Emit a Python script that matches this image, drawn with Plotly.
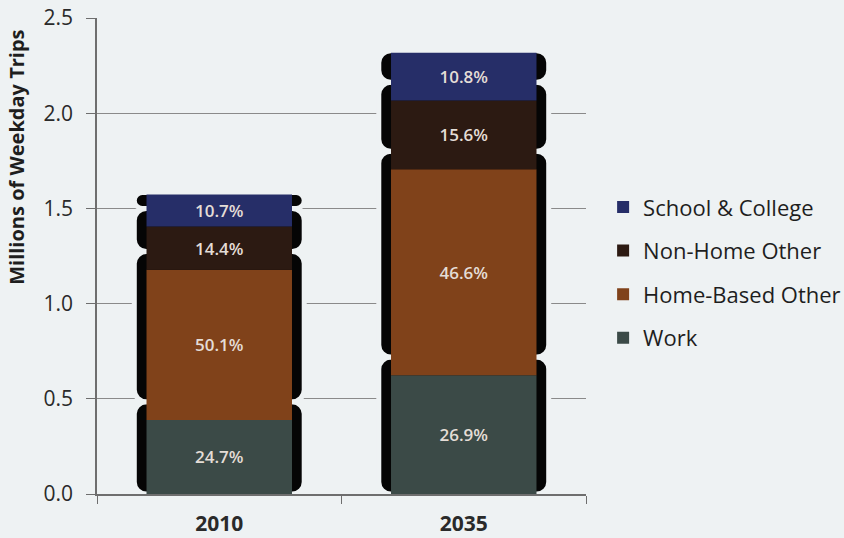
import numpy as np
import plotly.graph_objects as go

# ---- data (millions of weekday trips) ----
categories = ["2010", "2035"]
series_names = ["Work", "Home-Based Other", "Non-Home Other", "School & College"]
work = [0.389, 0.624]
home_based_other = [0.789, 1.081]
non_home_other = [0.227, 0.362]
school_college = [0.168, 0.251]
work_pct = ["24.7%", "26.9%"]
hbo_pct = ["50.1%", "46.6%"]
nho_pct = ["14.4%", "15.6%"]
school_pct = ["10.7%", "10.8%"]
y_ticks = [0.0, 0.5, 1.0, 1.5, 2.0, 2.5]
y_tick_labels = ["0.0", "0.5", "1.0", "1.5", "2.0", "2.5"]

series_values = [work, home_based_other, non_home_other, school_college]
series_text = [work_pct, hbo_pct, nho_pct, school_pct]
series_colors = ["#3b4a47", "#80421a", "#2c1a12", "#262e68"]
legend_ranks = [4, 3, 2, 1]

BG = "#eef2f3"
FONT = "Open Sans, Arial, sans-serif"

vals = np.array(series_values, dtype=float)
tops = np.cumsum(vals, axis=0)
bases = tops - vals
totals = tops[-1]
shift = 0.095  # downward offset of the black bevel frames

fig = go.Figure()

# black bevel frames behind the segments
n = len(series_values)
for i in range(n):
    fb = bases[i] + shift if i > 0 else np.zeros_like(bases[i])
    ft = tops[i] + shift if i < n - 1 else totals + 0.01
    fig.add_trace(go.Bar(
        x=categories, y=ft - fb, base=fb, width=0.695,
        marker=dict(color="#050505", line=dict(color=BG, width=5), cornerradius=12),
        showlegend=False, hoverinfo="skip",
    ))

# coloured segments
for i in range(n):
    fig.add_trace(go.Bar(
        x=categories, y=series_values[i], base=bases[i], width=0.595,
        name=series_names[i], legendgroup=series_names[i], legendrank=legend_ranks[i],
        marker=dict(color=series_colors[i], line=dict(width=0)),
        text=series_text[i], textposition="inside", insidetextanchor="middle",
        textangle=0, constraintext="none",
        textfont=dict(family=FONT, size=17, color="#e4ddd6", weight=600),
    ))

fig.add_annotation(
    text="<b>Millions of Weekday Trips</b>", textangle=-90,
    xref="paper", yref="paper", x=-0.164, y=0.708,
    xanchor="center", yanchor="middle", showarrow=False,
    font=dict(family=FONT, size=20, color="#1e1e1e"),
)

fig.update_layout(
    width=844, height=538,
    barmode="overlay",
    paper_bgcolor=BG, plot_bgcolor=BG,
    margin=dict(l=97, r=258, t=18, b=44, autoexpand=False),
    font=dict(family=FONT, color="#2a2a2a"),
    legend=dict(
        x=1.035, y=0.465, xanchor="left", yanchor="middle",
        traceorder="grouped", tracegroupgap=12,
        font=dict(family=FONT, size=22, color="#1e1e1e"),
        bgcolor="rgba(0,0,0,0)",
    ),
    xaxis=dict(
        type="category", showgrid=False, showline=True, linecolor="#6e6e6e", linewidth=1.5,
        ticks="outside", tickson="boundaries", ticklen=8, tickcolor="#6e6e6e",
        ticklabelstandoff=10, automargin=False,
        tickfont=dict(family=FONT, size=21, color="#2a2a2a", weight=700),
    ),
    yaxis=dict(
        range=[0, 2.5], tickvals=y_ticks, ticktext=y_tick_labels,
        showgrid=True, gridcolor="#8a8a8a", gridwidth=1,
        showline=True, linecolor="#6e6e6e", linewidth=1.5,
        ticks="outside", ticklen=9, tickcolor="#6e6e6e", automargin=False,
        ticklabelstandoff=9,
        tickfont=dict(family=FONT, size=21, color="#2a2a2a"),
        zeroline=False,
    ),
)

fig.write_html(
    "out.html",
    config={"displayModeBar": False},
    post_script="document.body.style.margin='0';document.body.style.background='%s';" % BG,
)
